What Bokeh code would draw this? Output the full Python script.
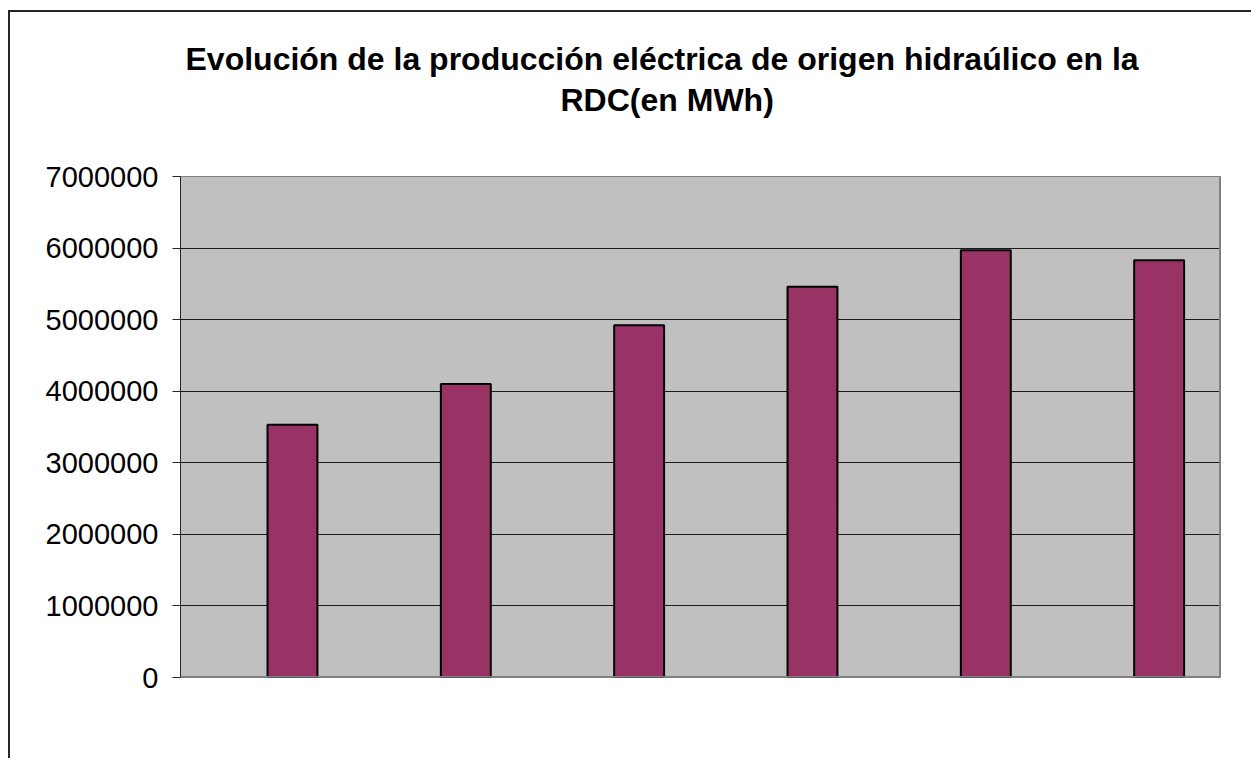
from bokeh.plotting import figure
from bokeh.models import (FactorRange, Range1d, FixedTicker, BasicTickFormatter,
                          Title, Span, ColumnDataSource)
from bokeh.transform import dodge
from bokeh.embed import file_html
from bokeh.resources import INLINE

# ---- data ----
categories = ["1", "2", "3", "4", "5", "6"]
values = [3530000, 4100000, 4920000, 5460000, 5970000, 5830000]
y_ticks = [0, 1000000, 2000000, 3000000, 4000000, 5000000, 6000000, 7000000]
title_line1 = "Evolución de la producción eléctrica de origen  hidraúlico en la"
title_line2 = "RDC(en MWh)"

FONT = "Liberation Sans"

src = ColumnDataSource(dict(cat=categories, val=values))

p = figure(x_range=FactorRange(*categories, range_padding=0),
           y_range=Range1d(0, 7000000),
           width=1243, height=748, title=None,
           min_border_left=170, min_border_right=33,
           min_border_top=164, min_border_bottom=83,
           output_backend="svg", toolbar_location=None)
p.styles = {"border-left": "2px solid #262626", "border-top": "2px solid #262626"}
p.margin = (10, 0, 0, 8)

p.background_fill_color = "#c0c0c0"
p.border_fill_color = "white"
p.outline_line_color = "#808080"
p.outline_line_width = 1

p.xgrid.visible = False
p.ygrid.grid_line_color = "#1a1a1a"
p.ygrid.grid_line_width = 1
p.ygrid.ticker = FixedTicker(ticks=y_ticks)

p.xaxis.visible = False

ax = p.yaxis[0]
ax.ticker = FixedTicker(ticks=y_ticks)
ax.formatter = BasicTickFormatter(use_scientific=False)
ax.axis_line_color = "#262626"
ax.axis_line_width = 1
ax.major_tick_line_color = "#262626"
ax.major_tick_in = 0
ax.major_tick_out = 8
ax.minor_tick_line_color = None
ax.major_label_text_font = FONT
ax.major_label_text_font_size = "29px"
ax.major_label_text_color = "black"
ax.major_label_standoff = 14

p.vbar(x=dodge("cat", 0.146, range=p.x_range), top="val", bottom=0, width=0.288,
       source=src, fill_color="#993366", line_color="black", line_width=2)

# thicker plot-area border on right and bottom
p.add_layout(Span(location=6, dimension="height", line_color="#808080", line_width=3))
p.add_layout(Span(location=0, dimension="width", line_color="#808080", line_width=3))

spacer = Title(text=" ", text_font_size="1px", standoff=56)
t2 = Title(text=title_line2, align="left", offset=380, text_font=FONT,
           text_font_size="32px", text_font_style="bold", text_color="black", standoff=0)
t1 = Title(text=title_line1, align="left", offset=5, text_font=FONT,
           text_font_size="32px", text_font_style="bold", text_color="black", standoff=6)
p.add_layout(spacer, "above")
p.add_layout(t2, "above")
p.add_layout(t1, "above")

open("out.html", "w").write(file_html(p, INLINE))
